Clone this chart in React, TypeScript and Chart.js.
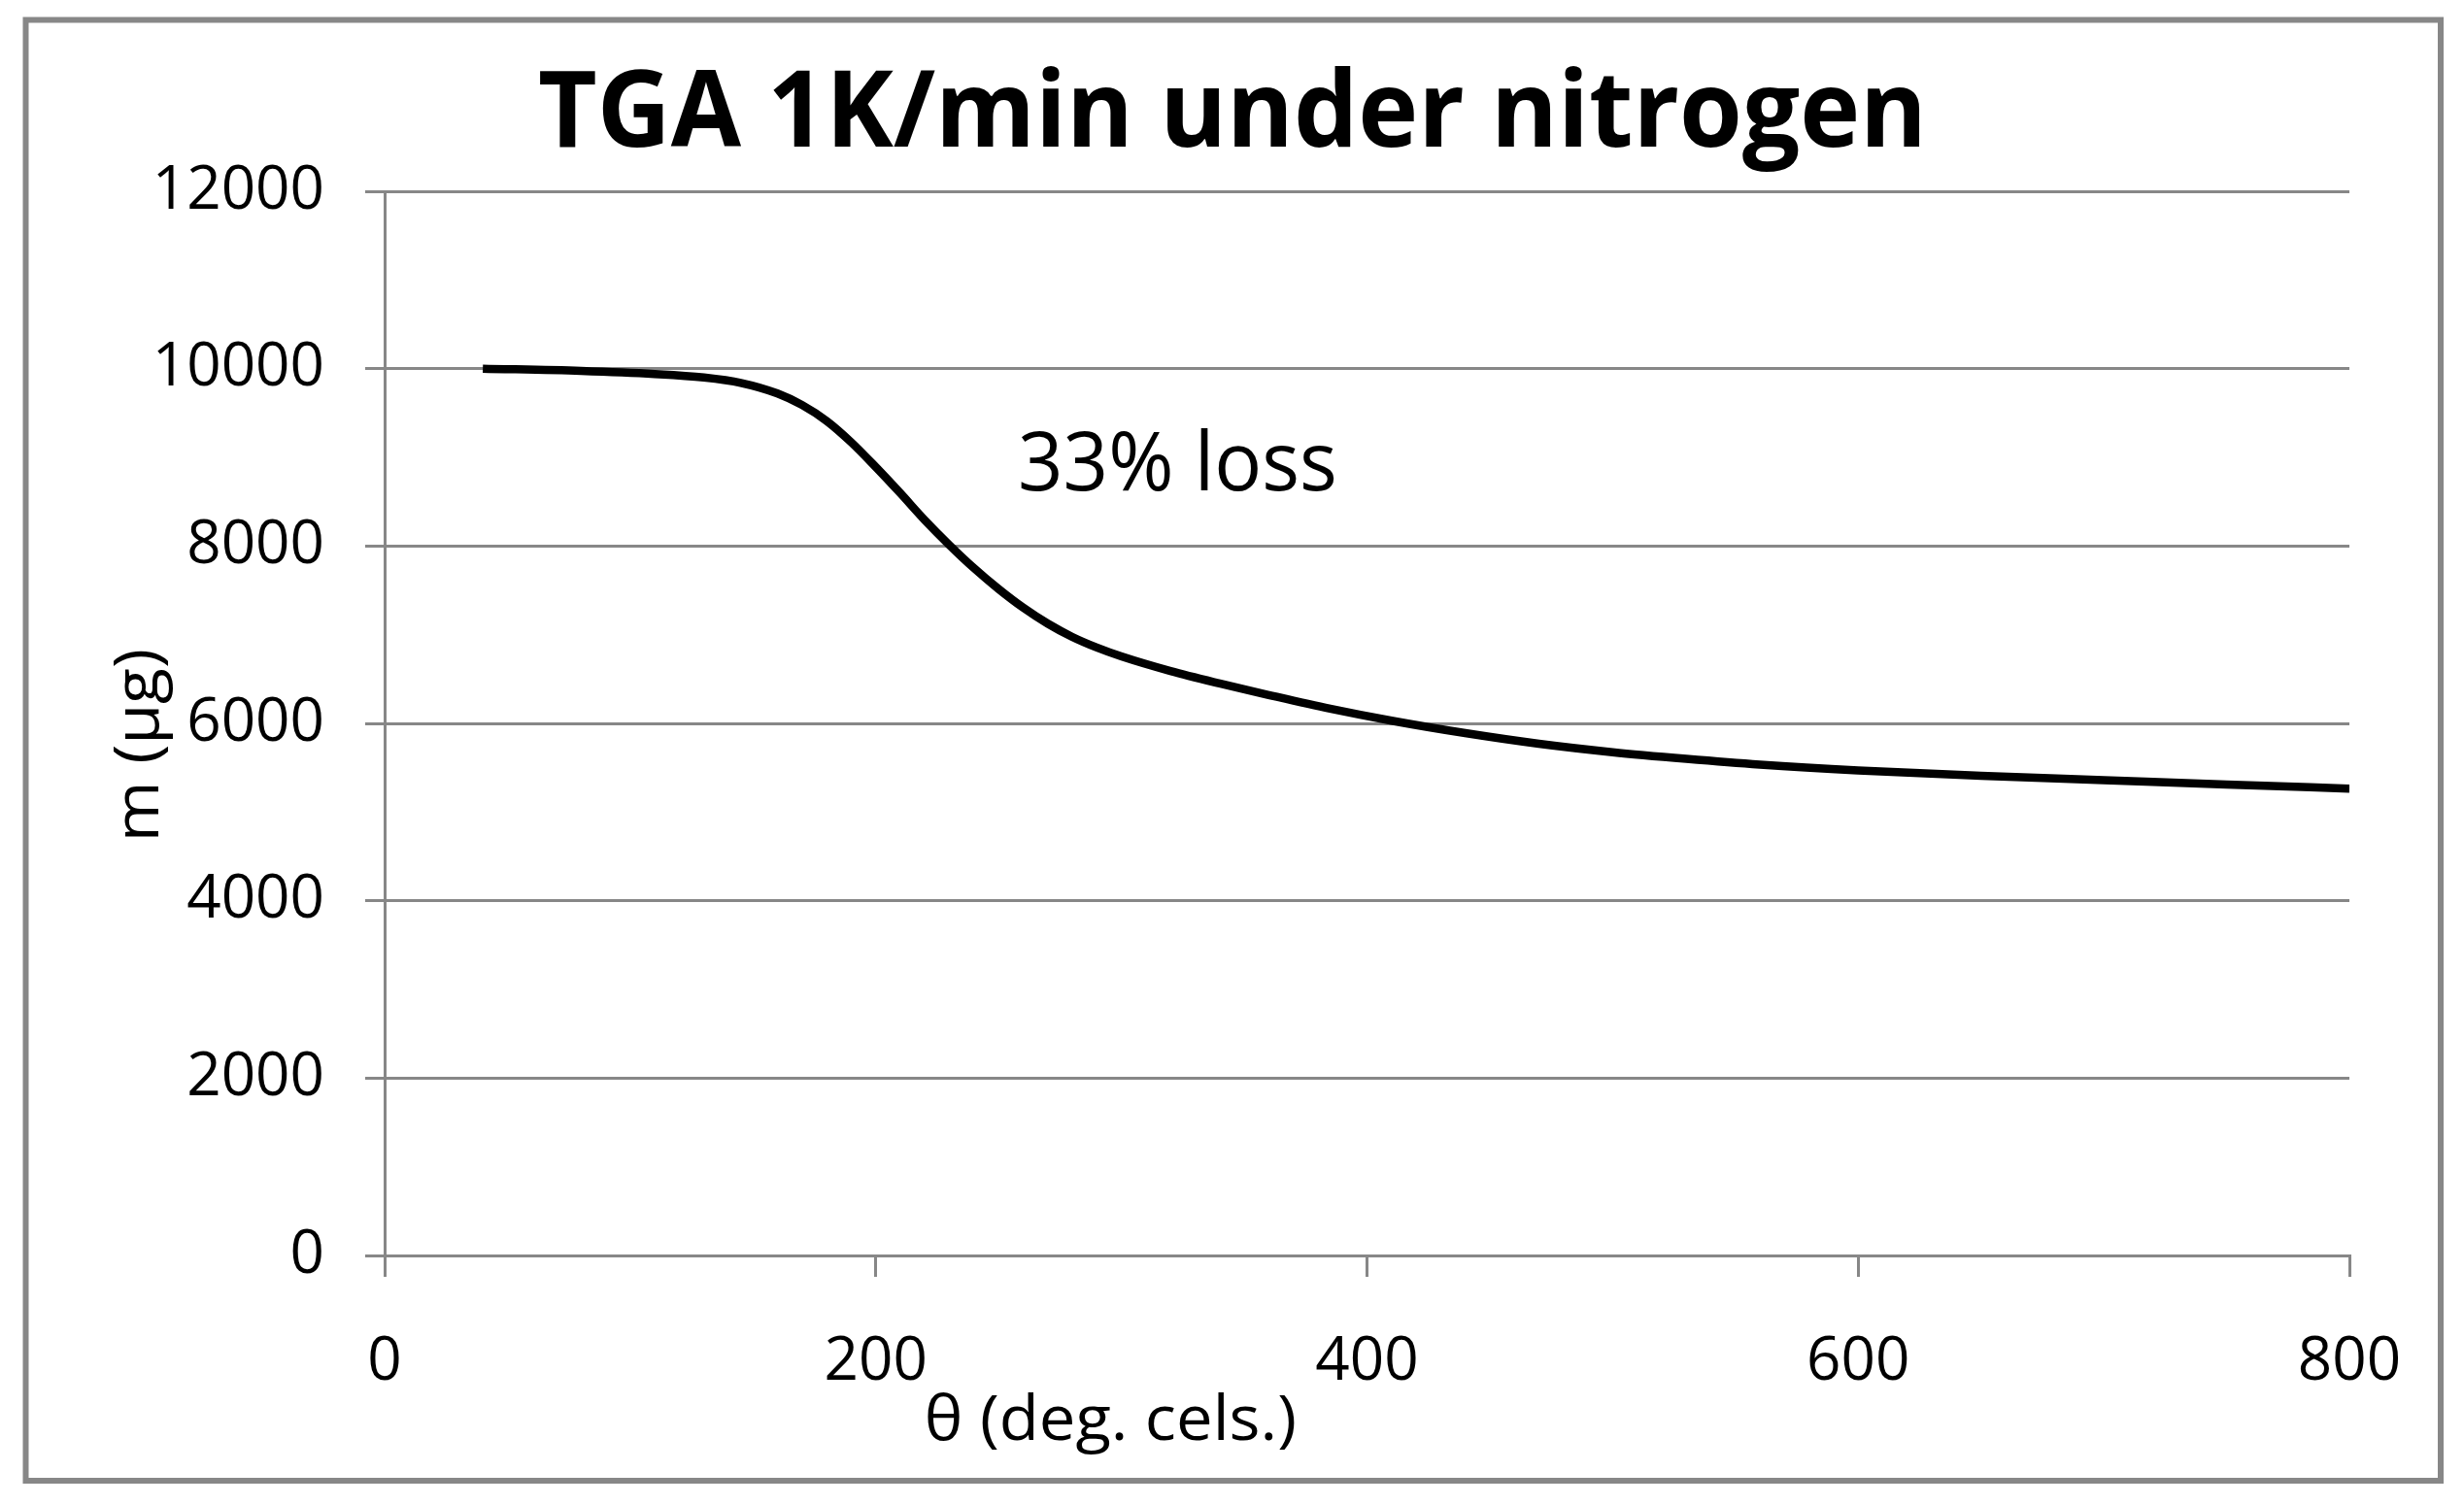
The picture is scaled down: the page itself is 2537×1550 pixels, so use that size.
import { useEffect, useRef } from 'react';
import { Chart, registerables } from 'chart.js';

Chart.register(...registerables);

// temperature (deg C) vs sample mass (µg)
const temperatures = [
  40, 80, 110, 130, 145, 160, 170, 180, 190, 200, 210, 220, 230, 240, 250, 260, 270, 280, 290, 300,
  320, 340, 360, 385, 410, 440, 470, 500, 530, 560, 600, 650, 700, 750, 800,
];
const masses = [
  10000, 9975, 9940, 9900, 9840, 9720, 9590, 9410, 9170, 8890, 8595, 8290, 8010, 7750, 7515, 7305, 7125, 6975, 6855, 6755,
  6590, 6450, 6320, 6165, 6030, 5890, 5770, 5675, 5600, 5535, 5470, 5410, 5360, 5310, 5265,
];

const xTicks = [0, 200, 400, 600, 800];
const yTicks = [0, 2000, 4000, 6000, 8000, 10000, 12000];

const titleText = 'TGA 1K/min under nitrogen';
const xTitleText = 'θ (deg. cels.)';
const yTitleText = 'm (μg)';
const noteText = '33% loss';
const notePos = { x: 259, y: 8630 };

const W = 2537;
const H = 1550;
const GRID = '#878787';
const FONT = '"Open Sans", sans-serif';

// draws text so that its ink box starts at `left` and is exactly `width` wide
function drawFitted(ctx: CanvasRenderingContext2D, text: string, left: number, baseline: number, width: number) {
  const m = ctx.measureText(text);
  const ink = m.actualBoundingBoxLeft + m.actualBoundingBoxRight;
  const s = ink > 0 ? width / ink : 1;
  ctx.save();
  ctx.translate(left, baseline);
  ctx.scale(s, 1);
  ctx.textAlign = 'left';
  ctx.textBaseline = 'alphabetic';
  ctx.fillText(text, m.actualBoundingBoxLeft, 0);
  ctx.restore();
}

const decorPlugin = {
  id: 'decor',
  beforeDraw(chart: Chart) {
    const ctx = chart.ctx;
    ctx.save();
    ctx.fillStyle = '#fff';
    ctx.fillRect(0, 0, chart.width, chart.height);
    ctx.restore();
  },
  afterDraw(chart: Chart) {
    const ctx = chart.ctx;
    const { x, y } = chart.scales;
    ctx.save();
    // outer frame
    ctx.strokeStyle = GRID;
    ctx.lineWidth = 6;
    ctx.strokeRect(26.5, 20.5, 2486.5, 1504.5);

    ctx.fillStyle = '#000';
    ctx.font = `bold 110px ${FONT}`;
    drawFitted(ctx, titleText, 556, 151, 1421);

    ctx.font = `64px ${FONT}`;
    drawFitted(ctx, xTitleText, 955, 1483, 378);

    ctx.save();
    ctx.translate(163, 862);
    ctx.rotate(-Math.PI / 2);
    ctx.font = `64px ${FONT}`;
    drawFitted(ctx, yTitleText, 0, 0, 192);
    ctx.restore();

    ctx.font = `84px ${FONT}`;
    drawFitted(ctx, noteText, x.getPixelForValue(notePos.x), y.getPixelForValue(notePos.y), 323);
    ctx.restore();
  },
};

function TgaChart() {
  const canvasRef = useRef<HTMLCanvasElement>(null);
  const chartRef = useRef<Chart | null>(null);

  useEffect(() => {
    if (!canvasRef.current) return;
    document.body.style.margin = '0';
    document.body.style.overflow = 'hidden';
    chartRef.current?.destroy();
    chartRef.current = new Chart(canvasRef.current, {
      type: 'line',
      data: {
        datasets: [{
          data: temperatures.map((t, i) => ({ x: t, y: masses[i] })),
          borderColor: '#000',
          borderWidth: 8.5,
          pointRadius: 0,
          fill: false,
          cubicInterpolationMode: 'monotone',
          borderCapStyle: 'butt',
          borderJoinStyle: 'round',
        }],
      },
      options: {
        responsive: true,
        maintainAspectRatio: false,
        animation: false,
        events: [],
        layout: { padding: { top: 197, right: 118, left: 0, bottom: 0 } },
        plugins: {
          legend: { display: false },
          tooltip: { enabled: false },
          title: { display: false },
        },
        scales: {
          x: {
            type: 'linear',
            min: xTicks[0],
            max: xTicks[xTicks.length - 1],
            afterBuildTicks: s => { s.ticks = xTicks.map(v => ({ value: v })); },
            afterFit: s => { s.height = H - 1293; s.paddingLeft = 0; s.paddingRight = 0; },
            grid: { drawOnChartArea: false, drawTicks: true, tickLength: 22, color: GRID, lineWidth: 3 },
            border: { display: true, color: GRID, width: 3 },
            ticks: {
              color: '#000',
              padding: 51,
              maxRotation: 0,
              autoSkip: false,
              font: { family: FONT, size: 62 },
              callback: v => String(v),
            },
          },
          y: {
            min: yTicks[0],
            max: yTicks[yTicks.length - 1],
            afterBuildTicks: s => { s.ticks = yTicks.map(v => ({ value: v })); },
            afterFit: s => { s.width = 396; s.paddingTop = 0; s.paddingBottom = 0; },
            grid: { drawTicks: true, tickLength: 20, color: GRID, lineWidth: 3 },
            border: { display: true, color: GRID, width: 3 },
            ticks: {
              color: '#000',
              padding: 42,
              autoSkip: false,
              font: { family: FONT, size: 62 },
              callback: v => String(v),
            },
          },
        },
      },
      plugins: [decorPlugin],
    });
    return () => chartRef.current?.destroy();
  }, []);

  return (
    <div style={{ position: 'absolute', left: 0, top: 0, width: W, height: H }}>
      <canvas
        ref={canvasRef}
        role="img"
        aria-label="TGA 1K/min under nitrogen: mass falls from 10000 µg at 40 °C to about 5265 µg at 800 °C (33% loss)"
      />
    </div>
  );
}

export default function App() {
  return <TgaChart />;
}
